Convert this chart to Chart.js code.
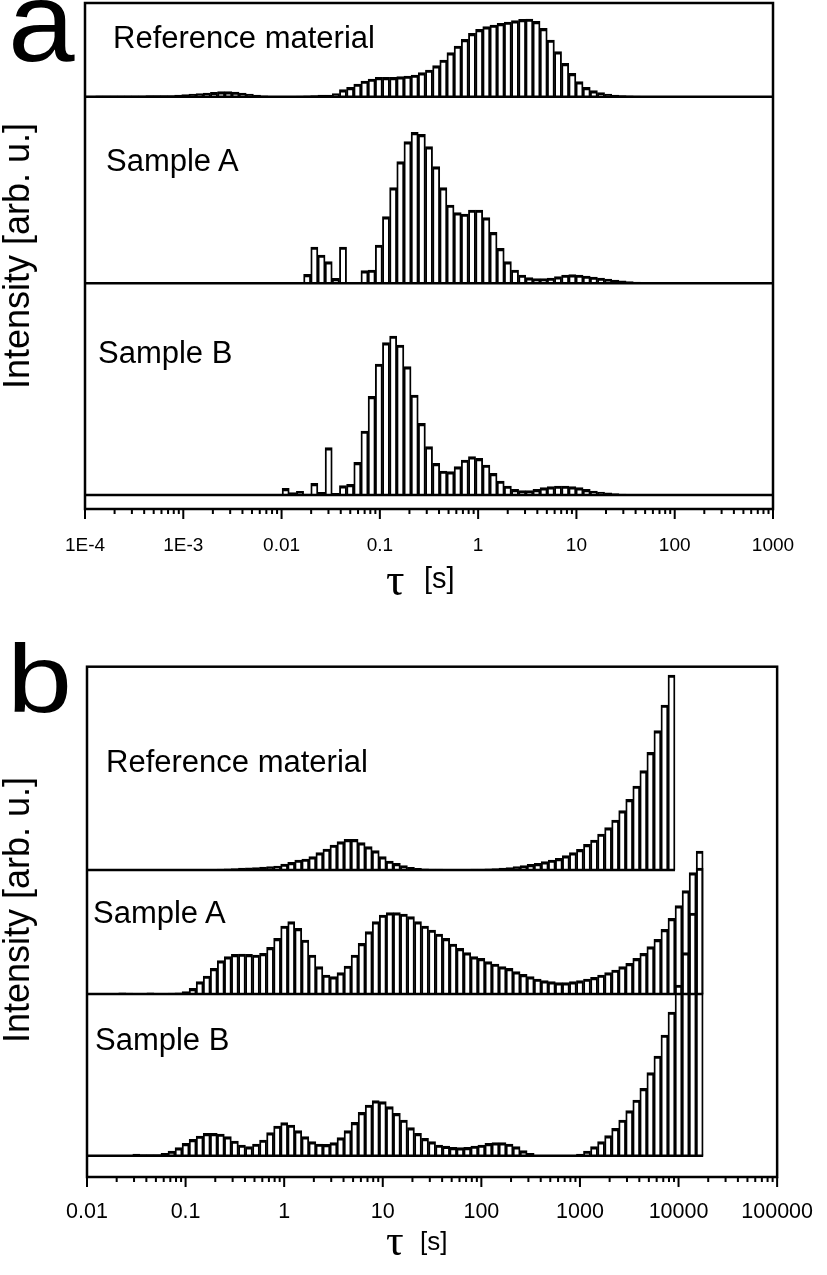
<!DOCTYPE html>
<html lang="en">
<head>
<meta charset="UTF-8">
<title>Relaxation time distributions</title>
<script src="https://cdn.jsdelivr.net/npm/chart.js"></script>
<style>
  body { margin: 0; background: #fff; }
  #page { position: relative; width: 827px; height: 1275px; overflow: hidden; font-family: 'Liberation Sans', Arial, sans-serif; color: #000; }
  .box { position: absolute; left: 0; width: 827px; }
  .txt { position: absolute; white-space: nowrap; line-height: 1; transform-origin: 0 0; }
</style>
</head>
<body>
<div id="page">
  <div class="box" style="top:0;height:620px"><canvas id="chartA"></canvas></div>
  <div class="box" style="top:620px;height:655px"><canvas id="chartB"></canvas></div>
</div>
<script>
// bin grids, log10(tau / s)
const gridA = { first: -4, step: 7 / 96 };
const gridB = { first: -2, step: 1 / 14 };

const tickLabelsA = ['1E-4', '1E-3', '0.01', '0.1', '1', '10', '100', '1000'];
const tickLabelsB = ['0.01', '0.1', '1', '10', '100', '1000', '10000', '100000'];

const seriesNames = ['Reference material', 'Sample A', 'Sample B'];

// panel a, bar heights (arb. u.)
const aReference = [
  0.7, 0.7, 0.8, 0.8, 0.8, 0.8, 0.9, 0.9, 0.9, 1.0, 1.0, 1.1, 1.2,
  1.5, 2, 2.5, 3, 3.5, 4.3, 5, 5, 4.5, 3.5, 2.5, 1.5, 0.8, 0.4, 0.3, 0.3, 0.3, 0.5, 0.8, 1, 1.7, 1.7, 3,
  7, 9.3, 12.7, 15.7, 17.7, 19.3, 19.3, 19.3, 20, 20.7, 21.7, 24, 26.7, 31, 36.7, 44, 50.7, 57.3, 63.3,
  67.3, 70, 71.7, 73.3, 74.7, 76, 77.3, 77.7, 75.3, 68.3, 56.7, 45, 33.3, 23.3, 15, 9.3, 6, 4, 2.7,
  1.7, 1.2, 0.8, 0.5, 0.3,
  0, 0, 0, 0, 0, 0, 0, 0, 0, 0, 0, 0, 0, 0, 0, 0, 0, 0
];
const aSampleA = [
  0, 0, 0, 0, 0, 0, 0, 0, 0, 0, 0, 0, 0, 0, 0, 0, 0, 0, 0, 0, 0, 0, 0, 0, 0, 0, 0, 0, 0, 0,
  0.5, 9, 36.3, 28.3, 21.7, 5, 36.3, 0.8, 0.8, 12.7, 13.3, 38.3, 66.7, 95.7, 121.7, 141.7, 151, 149,
  136.7, 116.7, 95.7, 78.3, 70.7, 69.3, 73.3, 73.3, 65.7, 51, 35, 21.7, 13.3, 8.3, 5.7, 4.7, 4.7, 5.3,
  6.7, 8.3, 8.7, 8.3, 7.3, 6.3, 5.3, 4.3, 3.3, 2.5, 1.8, 1.2, 0.8, 0.5, 0.3,
  0, 0, 0, 0, 0, 0, 0, 0, 0, 0, 0, 0, 0, 0, 0, 0
];
const aSampleB = [
  0, 0, 0, 0, 0, 0, 0, 0, 0, 0, 0, 0, 0, 0, 0, 0, 0, 0, 0, 0, 0, 0, 0, 0, 0, 0,
  0.3, 0.3, 6.7, 2.3, 3.7, 1, 11.7, 2.7, 47.3, 1.7, 9.3, 10.7, 32.7, 64, 98.7, 131, 152.3, 159, 150,
  128.3, 100, 71.7, 48.3, 31.7, 24, 23.3, 28.3, 35, 38.3, 36.7, 30, 21.7, 14, 9, 5.7, 4.3, 4.3, 5.7,
  7.3, 8.3, 9, 9, 8.3, 7.3, 5.7, 4, 3, 2.2, 1.5, 1, 0.6, 0.3,
  0, 0, 0, 0, 0, 0, 0, 0, 0, 0, 0, 0, 0, 0, 0, 0, 0, 0, 0
];

// panel b, bar heights (arb. u.)
const bReference = [
  0, 0, 0, 0, 0, 0, 0, 0, 0, 0, 0, 0, 0, 0, 0,
  0.2, 0.3, 0.4, 0.6, 0.9, 1.2, 1.5, 1.8, 2.1, 2.4, 2.8, 3.3,
  4, 6, 7.7, 10, 11, 13.3, 17.3, 21, 25, 28.3, 30.7, 30.7, 27.3, 23.3, 19.3, 13.3, 9, 6.7, 4.3, 2.7, 1.7,
  1.2, 1, 0.8, 0.7, 0.7, 0.7, 0.7, 0.9, 1, 1.2, 1.5, 1.8, 2.3, 3.3, 4.3,
  5.7, 6.7, 8.3, 10, 11.7, 14.3, 17.3, 20.7, 25.7, 30, 36, 42.3, 50, 59.3, 70.7, 84, 99.3, 117.7,
  139.3, 165, 195
];
const bSampleA = [
  0.3, 0.3, 0.5, 0.5, 0.6, 1.2, 0.8, 0.5, 0.6, 1.2, 0.6, 0.7, 0.9, 1.2,
  2.3, 5.7, 12.3, 18, 25.7, 33.3, 37.3, 39.7, 40, 39.7, 39, 40.7, 46.7, 55.7, 68, 72.3, 65.7, 54, 39,
  27.3, 19, 17.3, 21.3, 28, 39, 50.7, 62.3, 72.3, 79, 81.3, 81.3, 80, 77.3, 72.3, 68, 64, 60, 55.7, 50,
  45.7, 41.3, 37.3, 35.7, 32.3, 30, 27.3, 25.7, 22.3, 19.7, 17.3, 15, 13.3, 12.3, 11.3, 11.3, 12.3,
  13.3, 15, 16.7, 19, 21.3, 24, 27.3, 30.7, 35.7, 40.7, 47.3, 54.7, 64.7, 75.7, 88.3, 103.3, 121.3, 143
];
const bSampleB = [
  0, 0, 0, 0, 0, 0, 0,
  1.7, 1, 1, 1, 2.3, 4.7, 8, 12.3, 16.3, 19.7, 22.3, 22.3, 21.7, 19, 14.7, 10.7, 9, 11.7, 15.7, 23,
  29.7, 33, 30.7, 25, 19, 14, 11.7, 11.3, 13, 18, 25, 33.3, 43.3, 50.7, 55, 54, 49, 42.3, 35.7, 28,
  22.3, 17.3, 14, 10.7, 9.5, 8.3, 8, 8.3, 9.7, 10.7, 12.3, 13, 13, 11.7, 9, 5, 2.3,
  0, 0, 0, 0, 0, 0,
  1.7, 4.7, 9, 14, 20, 27.3, 35.7, 45, 55.7, 67.3, 83, 99.7, 120.7, 143.7, 170.7, 203, 242.7, 287.7
];

const fontSans = "'Liberation Sans', Arial, sans-serif";
const fontSerif = "'Liberation Serif', 'Times New Roman', serif";

// frame round the plot area plus decade / minor ticks on the log axis
const framePlugin = {
  id: 'frame',
  afterDraw(chart) {
    const { ctx, chartArea: area, scales: { x } } = chart;
    ctx.save();
    ctx.strokeStyle = '#000';
    ctx.lineWidth = 2.5;
    ctx.strokeRect(area.left, area.top, area.right - area.left, area.bottom - area.top);
    ctx.beginPath();
    ctx.lineWidth = 2;
    for (let d = Math.round(x.min); d <= x.max; d++) {
      for (let m = 1; m <= 9; m++) {
        const v = d + Math.log10(m);
        if (v > x.max + 1e-9) break;
        const px = x.getPixelForValue(v);
        ctx.moveTo(px, area.bottom);
        ctx.lineTo(px, area.bottom + (m === 1 ? 10 : 5));
      }
    }
    ctx.stroke();
    ctx.restore();
  }
};

function makeChart(id, p) {
  const longest = p.series.reduce((a, s) => Math.max(a, s.length), 0);
  const bins = [];
  for (let k = 0; k < longest; k++) bins.push(p.grid.first + k * p.grid.step);

  const datasets = [];
  p.series.forEach((heights, s) => {
    const base = p.bases[s];
    const lastEdge = bins[heights.length - 1] + p.grid.step / 2;
    datasets.push({
      type: 'bar',
      label: seriesNames[s],
      data: heights.map((h, k) => ({ x: bins[k], y: [base, base + h] })),
      backgroundColor: 'rgba(0,0,0,0)',
      borderColor: '#000',
      borderWidth: { top: 2.5, left: 1.25, right: 1.25, bottom: 0 },
      borderSkipped: false,
      grouped: false,
      barPercentage: 1,
      categoryPercentage: 1,
      clip: 0
    });
    datasets.push({
      type: 'line',
      label: seriesNames[s] + ' baseline',
      data: [{ x: p.min, y: base }, { x: p.fullBaseline ? p.max : lastEdge, y: base }],
      borderColor: '#000',
      borderWidth: 2.5,
      pointRadius: 0,
      clip: 0
    });
  });

  return new Chart(document.getElementById(id), {
    type: 'bar',
    data: { datasets },
    options: {
      responsive: true,
      maintainAspectRatio: false,
      animation: false,
      events: [],
      layout: { padding: p.padding },
      plugins: { legend: { display: false }, tooltip: { enabled: false } },
      scales: {
        x: {
          type: 'linear',
          min: p.min,
          max: p.max,
          offset: false,
          grid: { display: false },
          border: { display: false },
          afterBuildTicks: axis => { axis.ticks = p.tickLabels.map((_, i) => ({ value: p.min + i })); },
          afterFit: axis => { axis.height = p.axisHeight; },
          ticks: {
            autoSkip: false,
            maxRotation: 0,
            padding: p.labelPad,
            color: '#000',
            font: { family: fontSans, size: p.tickSize },
            callback: (v, i) => p.tickLabels[i]
          }
        },
        y: { display: false, min: 0, max: p.yMax }
      }
    },
    plugins: [framePlugin]
  });
}

makeChart('chartA', {
  grid: gridA, series: [aReference, aSampleA, aSampleB],
  bases: [412.3, 225.7, 14], yMax: 506, min: -4, max: 3, fullBaseline: true,
  tickLabels: tickLabelsA, tickSize: 19, labelPad: 17, axisHeight: 111,
  padding: { top: 3, left: 85, right: 54, bottom: 0 }
});

makeChart('chartB', {
  grid: gridB, series: [bReference, bSampleA, bSampleB],
  bases: [307, 183, 21.3], yMax: 510.3, min: -2, max: 5, fullBaseline: false,
  tickLabels: tickLabelsB, tickSize: 21.5, labelPad: 14, axisHeight: 98,
  padding: { top: 46.7, left: 87, right: 44.5, bottom: 0 }
});

// text overlays: x = left edge, y = baseline
const page = document.getElementById('page');
function addText(t, x, y, size, family, stretch) {
  const el = document.createElement('div');
  el.className = 'txt';
  el.textContent = t;
  el.style.left = x + 'px';
  el.style.top = (y - size * 0.847) + 'px';
  el.style.fontSize = size + 'px';
  el.style.fontFamily = family || fontSans;
  if (stretch) el.style.transform = 'scaleX(' + stretch + ')';
  page.appendChild(el);
  return el;
}
function addYTitle(cx, cy, size) {
  const el = document.createElement('div');
  el.className = 'txt';
  el.textContent = 'Intensity [arb. u.]';
  el.style.width = '400px';
  el.style.textAlign = 'center';
  el.style.fontSize = size + 'px';
  el.style.left = (cx - 200) + 'px';
  el.style.top = (cy - size / 2) + 'px';
  el.style.transformOrigin = '50% 50%';
  el.style.transform = 'rotate(-90deg)';
  page.appendChild(el);
}

addText('a', 8, 62, 114, null, 1.05);
addText(seriesNames[0], 113, 48, 31);
addText(seriesNames[1], 106, 171, 31);
addText(seriesNames[2], 98, 363, 31);
addText('\u03C4', 386, 596, 46, fontSerif);
addText('[s]', 424, 589, 29);
addYTitle(17, 256, 36);

addText('b', 7, 712, 96, null, 1.22);
addText(seriesNames[0], 106, 772, 31);
addText(seriesNames[1], 93, 923, 31);
addText(seriesNames[2], 95, 1050, 31);
addText('\u03C4', 386, 1256, 44, fontSerif);
addText('[s]', 420, 1250, 26);
addYTitle(17, 910, 36);
</script>
</body>
</html>
